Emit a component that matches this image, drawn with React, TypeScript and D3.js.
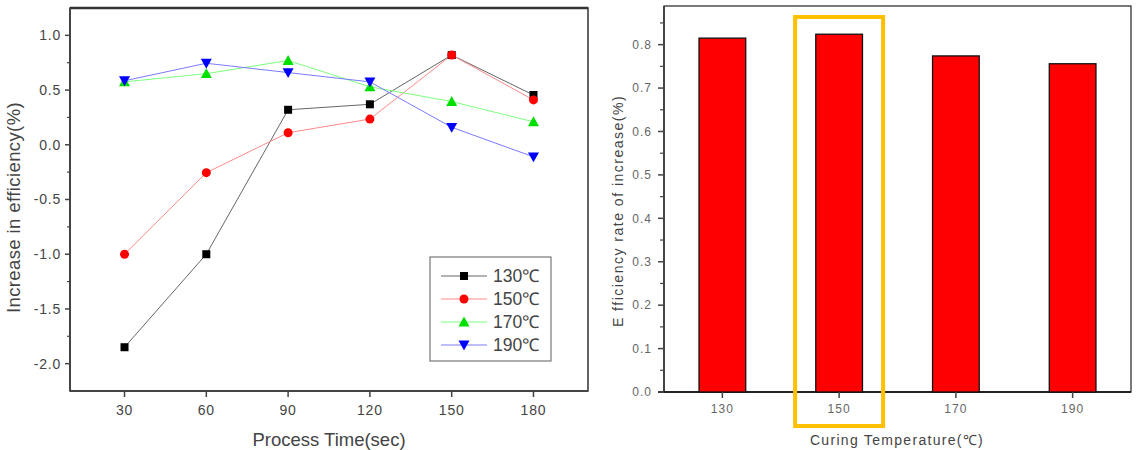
import React from 'react';
import * as d3 from 'd3';

// process time sweep (sec) and efficiency increase (%) per curing temperature
const processTimes = [30, 60, 90, 120, 150, 180];
const temp130 = [-1.85, -1.0, 0.32, 0.37, 0.82, 0.455];
const temp150 = [-1.0, -0.255, 0.11, 0.235, 0.82, 0.41];
const temp170 = [0.575, 0.65, 0.77, 0.53, 0.395, 0.21];
const temp190 = [0.585, 0.745, 0.66, 0.575, 0.16, -0.11];
const seriesNames = ['130℃', '150℃', '170℃', '190℃'];
const leftYTicks = [-2.0, -1.5, -1.0, -0.5, 0.0, 0.5, 1.0];

// averaged efficiency rate per curing temperature
const curingTemps = ['130', '150', '170', '190'];
const efficiencyRates = [0.815, 0.824, 0.774, 0.756];
const highlightTemp = '150';
const rightYTicks = [0, 0.1, 0.2, 0.3, 0.4, 0.5, 0.6, 0.7, 0.8];

const FONT = '"Liberation Sans", Arial, sans-serif';
const TEXT = '#444';

const seriesStyle = [
  { line: '#666', fill: '#000', shape: 'square' },
  { line: '#ff8a8a', fill: '#ff0000', shape: 'circle' },
  { line: '#7dff7d', fill: '#00e000', shape: 'up' },
  { line: '#7a7aff', fill: '#0000ff', shape: 'down' },
];

function Marker({ shape, x, y, fill }: { shape: string; x: number; y: number; fill: string }) {
  if (shape === 'square') return <rect x={x - 4} y={y - 4} width={8} height={8} fill={fill} />;
  if (shape === 'circle') return <circle cx={x} cy={y} r={4.5} fill={fill} />;
  const s = 5.5;
  const pts =
    shape === 'up'
      ? `${x},${y - s} ${x + s},${y + s * 0.8} ${x - s},${y + s * 0.8}`
      : `${x},${y + s} ${x + s},${y - s * 0.8} ${x - s},${y - s * 0.8}`;
  return <polygon points={pts} fill={fill} />;
}

function LineChart() {
  const left = 70, right = 588, top = 8, bottom = 391;
  const x = d3.scaleLinear().domain([10, 200]).range([left, right]);
  const y = d3.scaleLinear().domain([-2.25, 1.25]).range([bottom, top]);
  const series = [temp130, temp150, temp170, temp190];
  const line = d3
    .line<number>()
    .x((_, i) => x(processTimes[i]))
    .y(d => y(d));
  const minor = leftYTicks.slice(0, -1).map(t => t + 0.25);

  return (
    <g fontFamily={FONT}>
      <rect x={left} y={top} width={right - left} height={bottom - top} fill="#fff" stroke="#333" strokeWidth={1.5} />
      <line x1={left} x2={right} y1={top} y2={top} stroke="#333" strokeWidth={2.5} />
      <line x1={left} x2={left} y1={top} y2={bottom} stroke="#444" strokeWidth={2} />
      <line x1={left} x2={right} y1={bottom} y2={bottom} stroke="#444" strokeWidth={2} />

      {leftYTicks.map(t => (
        <g key={t}>
          <line x1={left - 5} x2={left} y1={y(t)} y2={y(t)} stroke="#444" strokeWidth={1.5} />
          <text x={left - 9} y={y(t)} dy="0.35em" textAnchor="end" fontSize={14} fill={TEXT} letterSpacing={0.8}>
            {t.toFixed(1)}
          </text>
        </g>
      ))}
      {minor.map(t => (
        <line key={t} x1={left - 3} x2={left} y1={y(t)} y2={y(t)} stroke="#444" strokeWidth={1.2} />
      ))}
      {processTimes.map(t => (
        <g key={t}>
          <line x1={x(t)} x2={x(t)} y1={bottom} y2={bottom + 6} stroke="#444" strokeWidth={1.5} />
          <text x={x(t)} y={bottom + 24} textAnchor="middle" fontSize={14} fill={TEXT} letterSpacing={0.8}>
            {t}
          </text>
        </g>
      ))}
      <text x={(left + right) / 2} y={446} textAnchor="middle" fontSize={18.5} fill={TEXT}>
        Process Time(sec)
      </text>
      <text
        transform={`translate(20,${(top + bottom) / 2 + 8}) rotate(-90)`}
        textAnchor="middle"
        fontSize={18.5}
        fill={TEXT}
        letterSpacing={0.4}
      >
        Increase in efficiency(%)
      </text>

      {series.map((vals, si) => (
        <path key={si} d={line(vals) ?? ''} fill="none" stroke={seriesStyle[si].line} strokeWidth={1} />
      ))}
      {series.map((vals, si) =>
        vals.map((v, i) => (
          <Marker key={`${si}-${i}`} shape={seriesStyle[si].shape} x={x(processTimes[i])} y={y(v)} fill={seriesStyle[si].fill} />
        )),
      )}

      {/* legend */}
      <g>
        <rect x={430} y={257} width={121} height={104} fill="#fff" stroke="#777" strokeWidth={1.2} />
        {seriesNames.map((name, i) => {
          const ly = 276 + i * 23;
          return (
            <g key={name}>
              <line x1={441} x2={487} y1={ly} y2={ly} stroke={seriesStyle[i].line} strokeWidth={1} />
              <Marker shape={seriesStyle[i].shape} x={464} y={ly} fill={seriesStyle[i].fill} />
              <text x={493} y={ly} dy="0.36em" fontSize={17.5} fill={TEXT}>
                {name}
              </text>
            </g>
          );
        })}
      </g>
    </g>
  );
}

function BarChart() {
  const left = 664, right = 1131, top = 6, bottom = 392;
  const x = d3.scaleBand<string>().domain(curingTemps).range([left, right]).padding(0);
  const y = d3.scaleLinear().domain([0, 0.889]).range([bottom, top]);
  const barW = x.bandwidth() * 0.4;
  const minor = rightYTicks.map(t => t + 0.05);
  const hx = (x(highlightTemp) ?? 0) + x.bandwidth() / 2;

  return (
    <g fontFamily={FONT}>
      <rect x={left} y={top} width={right - left} height={bottom - top} fill="#fff" stroke="#222" strokeWidth={1.2} />
      <line x1={left} x2={left} y1={top} y2={bottom} stroke="#444" strokeWidth={2} />
      <line x1={left - 6} x2={right} y1={bottom} y2={bottom} stroke="#222" strokeWidth={1.8} />

      {rightYTicks.map(t => (
        <g key={t}>
          <line x1={left - 6} x2={left} y1={y(t)} y2={y(t)} stroke="#444" strokeWidth={1.5} />
          <text x={left - 12} y={y(t)} dy="0.35em" textAnchor="end" fontSize={12} fill="#666" letterSpacing={1}>
            {t.toFixed(1)}
          </text>
        </g>
      ))}
      {minor.map(t => (
        <line key={t} x1={left - 4} x2={left} y1={y(t)} y2={y(t)} stroke="#444" strokeWidth={1.2} />
      ))}

      {curingTemps.map((c, i) => {
        const cx = (x(c) ?? 0) + x.bandwidth() / 2;
        return (
          <g key={c}>
            <rect
              x={cx - barW / 2}
              y={y(efficiencyRates[i])}
              width={barW}
              height={bottom - y(efficiencyRates[i])}
              fill="#ff0000"
              stroke="#111"
              strokeWidth={1.3}
            />
            <line x1={cx} x2={cx} y1={bottom} y2={bottom + 6} stroke="#444" strokeWidth={1.5} />
            <text x={cx} y={bottom + 21} textAnchor="middle" fontSize={12} fill="#666" letterSpacing={1}>
              {c}
            </text>
          </g>
        );
      })}

      <text x={897} y={445} textAnchor="middle" fontSize={14} fill={TEXT} letterSpacing={1.3}>
        Curing Temperature(℃)
      </text>
      <text
        transform={`translate(623,${(top + bottom) / 2 + 12}) rotate(-90)`}
        textAnchor="middle"
        fontSize={14}
        fill={TEXT}
        letterSpacing={1.5}
      >
        E fficiency rate of increase(%)
      </text>

      {/* highlighted temperature */}
      <rect x={hx - 44} y={17} width={88} height={409} fill="none" stroke="#ffc000" strokeWidth={4} />
    </g>
  );
}

export default function App() {
  return (
    <svg width={1139} height={450} style={{ position: 'absolute', left: 0, top: 0, background: '#fff' }}>
      <rect width={1139} height={450} fill="#fff" />
      <LineChart />
      <BarChart />
    </svg>
  );
}
